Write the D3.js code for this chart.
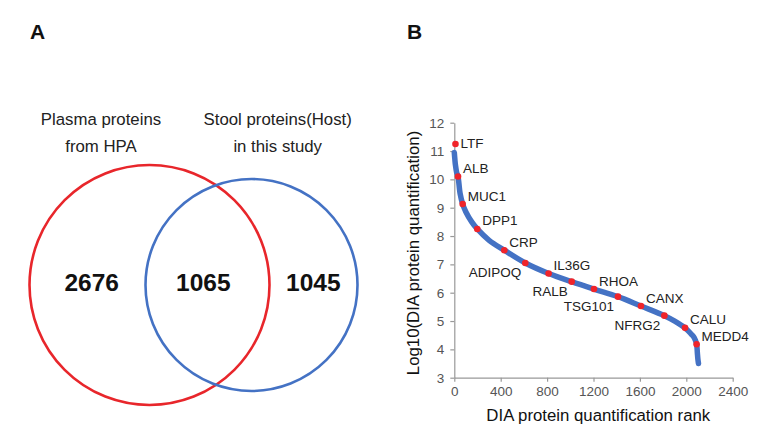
<!DOCTYPE html>
<html>
<head>
<meta charset="utf-8">
<script src="https://cdn.jsdelivr.net/npm/d3@7"></script>
<style>
  body { margin: 0; background: #fff; }
  svg { display: block; font-family: "Liberation Sans", Arial, sans-serif; }
</style>
</head>
<body>
<svg id="chart" width="772" height="439"></svg>
<script>
// ---- Panel A data (Venn) ----
const vennSetNames = [["Plasma proteins", "from HPA"], ["Stool proteins(Host)", "in this study"]];
const vennCounts = [2676, 1065, 1045]; // only plasma, both, only stool

// ---- Panel B data (rank curve) ----
const curveRanks  = [0, 5, 10, 20, 32, 50, 72, 100, 150, 198, 300, 431, 612, 813, 1012, 1204, 1411, 1609, 1811, 1900, 1989, 2040, 2070, 2089, 2095, 2100, 2105];
const curveValues = [10.95, 10.7, 10.5, 10.25, 10.1, 9.5, 9.13, 8.85, 8.5, 8.25, 7.85, 7.5, 7.05, 6.68, 6.39, 6.13, 5.86, 5.53, 5.19, 5.0, 4.76, 4.55, 4.4, 4.18, 3.9, 3.65, 3.5];

const geneNames  = ["LTF", "ALB", "MUC1", "DPP1", "CRP", "ADIPOQ", "IL36G", "RALB", "RHOA", "TSG101", "CANX", "NFRG2", "CALU", "MEDD4"];
const geneRanks  = [10, 32, 72, 198, 431, 612, 813, 1012, 1204, 1411, 1609, 1811, 1989, 2089];
const geneValues = [11.25, 10.1, 9.13, 8.25, 7.5, 7.05, 6.68, 6.39, 6.13, 5.86, 5.53, 5.19, 4.76, 4.18];
const geneLabelLeft = [false, false, false, false, false, true, false, true, false, true, false, true, false, false];

const xTicks = [0, 400, 800, 1200, 1600, 2000, 2400];
const yTicks = [3, 4, 5, 6, 7, 8, 9, 10, 11, 12];

const svg = d3.select("#chart");

// Panel labels
svg.append("text").attr("x", 30).attr("y", 39).attr("font-size", 21).attr("font-weight", "bold").attr("fill", "#111").text("A");
svg.append("text").attr("x", 407).attr("y", 39).attr("font-size", 21).attr("font-weight", "bold").attr("fill", "#111").text("B");

// ---- Venn ----
const vx = d3.scaleLinear().domain([0, 1]).range([149.5, 251.5]);
const circles = [
  {cx: vx(0), cy: 285, r: 120, color: "#e8262b"},
  {cx: vx(1), cy: 285, r: 106, color: "#4472c4"}
];
svg.selectAll("circle.venn").data(circles).enter().append("circle")
  .attr("class", "venn")
  .attr("cx", d => d.cx).attr("cy", d => d.cy).attr("r", d => d.r)
  .attr("fill", "none").attr("stroke", d => d.color).attr("stroke-width", 2.6);

const setLabelX = [101, 277.7];
vennSetNames.forEach((lines, i) => {
  lines.forEach((t, j) => {
    svg.append("text").attr("x", setLabelX[i]).attr("y", 119 + j * 27.7)
      .attr("text-anchor", "middle").attr("dominant-baseline", "central")
      .attr("font-size", 16.8).attr("fill", "#222").text(t);
  });
});
const countX = [91.7, 203.3, 313.3];
vennCounts.forEach((c, i) => {
  svg.append("text").attr("x", countX[i]).attr("y", 282)
    .attr("text-anchor", "middle").attr("dominant-baseline", "central")
    .attr("font-size", 24.5).attr("font-weight", "bold").attr("fill", "#111").text(c);
});

// ---- Rank curve ----
const x = d3.scaleLinear().domain([0, 2400]).range([454.3, 732.7]);
const y = d3.scaleLinear().domain([3, 12]).range([377.7, 122.7]);

const axisColor = "#999";
const tickTextColor = "#555";

const gx = svg.append("g").attr("transform", `translate(0,${y(3)})`)
  .call(d3.axisBottom(x).tickValues(xTicks).tickFormat(d3.format("d")).tickSize(4).tickSizeOuter(0).tickPadding(5));
const gy = svg.append("g").attr("transform", `translate(${x(0)},0)`)
  .call(d3.axisLeft(y).tickValues(yTicks).tickFormat(d3.format("d")).tickSize(4).tickSizeOuter(0).tickPadding(6));
[gx, gy].forEach(g => {
  g.select(".domain").attr("stroke", axisColor).attr("stroke-width", 1.2);
  g.selectAll(".tick line").attr("stroke", axisColor).attr("stroke-width", 1.2);
  g.selectAll(".tick text").attr("fill", tickTextColor).attr("font-size", 13.5)
    .attr("font-family", "'Liberation Sans', Arial, sans-serif");
});

svg.append("text").attr("x", 598.3).attr("y", 415).attr("text-anchor", "middle")
  .attr("dominant-baseline", "central").attr("font-size", 16.8).attr("fill", "#111")
  .text("DIA protein quantification rank");
svg.append("text").attr("transform", "translate(413,253) rotate(-90)")
  .attr("text-anchor", "middle").attr("dominant-baseline", "central")
  .attr("font-size", 16.8).attr("fill", "#111")
  .text("Log10(DIA protein quantification)");

const curveData = curveRanks.map((r, i) => [r, curveValues[i]]);
const line = d3.line().x(d => x(d[0])).y(d => y(d[1])).curve(d3.curveCatmullRom.alpha(0.5));
svg.append("path").datum(curveData).attr("d", line)
  .attr("fill", "none").attr("stroke", "#4472c4").attr("stroke-width", 5.5)
  .attr("stroke-linecap", "round").attr("stroke-linejoin", "round");

const genes = geneNames.map((n, i) => ({name: n, r: geneRanks[i], v: geneValues[i], left: geneLabelLeft[i]}));
svg.selectAll("circle.gene").data(genes).enter().append("circle")
  .attr("class", "gene").attr("cx", d => x(d.r)).attr("cy", d => y(d.v)).attr("r", 3.3)
  .attr("fill", "#f0242a");

svg.selectAll("text.gene").data(genes).enter().append("text")
  .attr("class", "gene")
  .attr("x", d => d.left ? x(d.r) - 4 : x(d.r) + 5)
  .attr("y", d => d.name === "LTF" ? y(d.v) : (d.left ? y(d.v) + 10 : y(d.v) - 8))
  .attr("text-anchor", d => d.left ? "end" : "start")
  .attr("dominant-baseline", "central")
  .attr("font-size", 13.5).attr("fill", "#222")
  .text(d => d.name);
</script>
</body>
</html>
